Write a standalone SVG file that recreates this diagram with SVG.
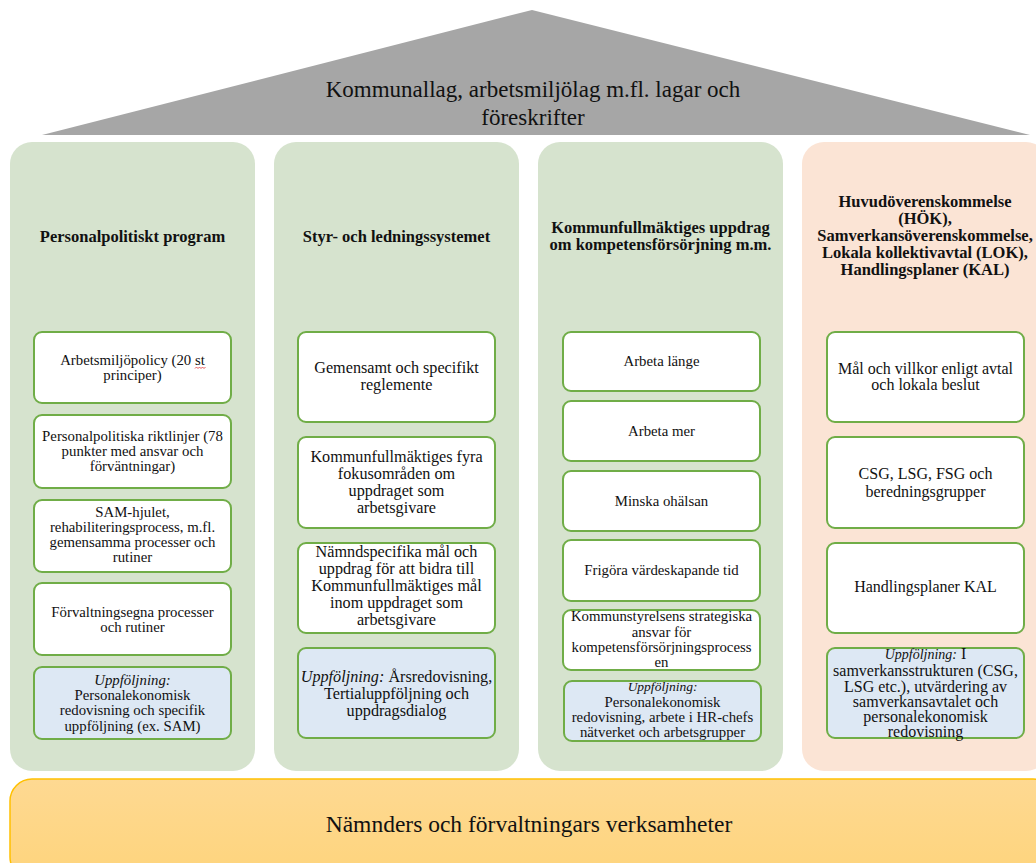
<svg xmlns="http://www.w3.org/2000/svg" width="1036" height="863" viewBox="0 0 1036 863">
<defs>
<linearGradient id="gBar" x1="0" y1="0" x2="0" y2="1">
<stop offset="0" stop-color="#fed992"/>
<stop offset="1" stop-color="#fed47c"/>
</linearGradient>
</defs>
<style>
text{font-family:"Liberation Serif","Times New Roman",serif;fill:#111;text-anchor:middle}
.col-g{fill:#d6e3ce}
.col-p{fill:#fbe4d5}
.box{fill:#fff;stroke:#70ad47;stroke-width:2}
.fu{fill:#dde8f4;stroke:#70ad47;stroke-width:2}
.hd{font-weight:bold;font-size:16.5px}
.t1{font-size:14.8px}
.t2{font-size:16.2px}
.t3{font-size:14.8px}
.t4{font-size:16px}
.it{font-style:italic}
</style>
<rect width="1036" height="863" fill="#fff"/>
<g id="roof">
<polygon points="42,135 532,10 1030,135" fill="#a6a6a6"/>
<text x="533" y="97" font-size="23">Kommunallag, arbetsmiljölag m.fl. lagar och</text>
<text x="533" y="125" font-size="23">föreskrifter</text>
</g>
<g id="col1">
<rect class="col-g" x="10" y="142" width="245" height="629" rx="22"/>
<text class="hd" x="132.5" y="242">Personalpolitiskt program</text>
</g>
<g id="col2">
<rect class="col-g" x="274" y="142" width="245" height="629" rx="22"/>
<text class="hd" x="396.5" y="242">Styr- och ledningssystemet</text>
</g>
<g id="col3">
<rect class="col-g" x="538" y="142" width="245" height="629" rx="22"/>
<text class="hd" x="660.5" y="233">Kommunfullmäktiges uppdrag</text>
<text class="hd" x="660.5" y="250">om kompetensförsörjning m.m.</text>
</g>
<g id="col4">
<rect class="col-p" x="802" y="142" width="246" height="629" rx="22"/>
<text class="hd" x="925" y="207">Huvudöverenskommelse</text>
<text class="hd" x="925" y="224">(HÖK),</text>
<text class="hd" x="925" y="241">Samverkansöverenskommelse,</text>
<text class="hd" x="925" y="258">Lokala kollektivavtal (LOK),</text>
<text class="hd" x="925" y="275">Handlingsplaner (KAL)</text>
</g>
<g id="c1b1">
<rect class="box" x="34" y="332" width="197" height="71" rx="8"/>
<text class="t1" x="132.5" y="365">Arbetsmiljöpolicy (20 st</text>
<text class="t1" x="132.5" y="380">principer)</text>
<path d="M195,368.5 l1.5,-1.5 l1.5,1.5 l1.5,-1.5 l1.5,1.5 l1.5,-1.5 l1.5,1.5 l1.5,-1.5" fill="none" stroke="#e03030" stroke-width="0.8"/>
</g>
<g id="c1b2">
<rect class="box" x="34" y="415" width="197" height="73" rx="8"/>
<text class="t1" x="132.5" y="441">Personalpolitiska riktlinjer (78</text>
<text class="t1" x="132.5" y="456">punkter med ansvar och</text>
<text class="t1" x="132.5" y="471">förväntningar)</text>
</g>
<g id="c1b3">
<rect class="box" x="34" y="500" width="197" height="72" rx="8"/>
<text class="t1" x="132.5" y="517">SAM-hjulet,</text>
<text class="t1" x="132.5" y="532">rehabiliteringsprocess, m.fl.</text>
<text class="t1" x="132.5" y="547">gemensamma processer och</text>
<text class="t1" x="132.5" y="562">rutiner</text>
</g>
<g id="c1b4">
<rect class="box" x="34" y="583" width="197" height="72" rx="8"/>
<text class="t1" x="132.5" y="617">Förvaltningsegna processer</text>
<text class="t1" x="132.5" y="632">och rutiner</text>
</g>
<g id="c1b5">
<rect class="fu" x="34" y="667" width="197" height="72" rx="8"/>
<text class="t1 it" x="132.5" y="685">Uppföljning:</text>
<text class="t1" x="132.5" y="700">Personalekonomisk</text>
<text class="t1" x="132.5" y="715">redovisning och specifik</text>
<text class="t1" x="132.5" y="731">uppföljning (ex. SAM)</text>
</g>
<g id="c2b1">
<rect class="box" x="298" y="332" width="197" height="90" rx="8"/>
<text class="t2" x="396.5" y="373">Gemensamt och specifikt</text>
<text class="t2" x="396.5" y="390">reglemente</text>
</g>
<g id="c2b2">
<rect class="box" x="298" y="437" width="197" height="91" rx="8"/>
<text class="t2" x="396.5" y="462">Kommunfullmäktiges fyra</text>
<text class="t2" x="396.5" y="479">fokusområden om</text>
<text class="t2" x="396.5" y="496">uppdraget som</text>
<text class="t2" x="396.5" y="513">arbetsgivare</text>
</g>
<g id="c2b3">
<rect class="box" x="298" y="543" width="197" height="90" rx="8"/>
<text class="t2" x="396.5" y="557">Nämndspecifika mål och</text>
<text class="t2" x="396.5" y="574">uppdrag för att bidra till</text>
<text class="t2" x="396.5" y="591">Kommunfullmäktiges mål</text>
<text class="t2" x="396.5" y="608">inom uppdraget som</text>
<text class="t2" x="396.5" y="625">arbetsgivare</text>
</g>
<g id="c2b4">
<rect class="fu" x="298" y="648" width="197" height="90" rx="8"/>
<text class="t2" x="396.5" y="682"><tspan class="it">Uppföljning:</tspan> Årsredovisning,</text>
<text class="t2" x="396.5" y="699">Tertialuppföljning och</text>
<text class="t2" x="396.5" y="716">uppdragsdialog</text>
</g>
<g id="c3b1">
<rect class="box" x="563" y="332" width="197" height="59" rx="8"/>
<text class="t3" x="661.5" y="366">Arbeta länge</text>
</g>
<g id="c3b2">
<rect class="box" x="563" y="401" width="197" height="60" rx="8"/>
<text class="t3" x="661.5" y="436">Arbeta mer</text>
</g>
<g id="c3b3">
<rect class="box" x="563" y="471" width="197" height="60" rx="8"/>
<text class="t3" x="661.5" y="506">Minska ohälsan</text>
</g>
<g id="c3b4">
<rect class="box" x="563" y="540" width="197" height="61" rx="8"/>
<text class="t3" x="661.5" y="575">Frigöra värdeskapande tid</text>
</g>
<g id="c3b5">
<rect class="box" x="563" y="610" width="197" height="60" rx="8"/>
<text class="t3" x="661.5" y="621">Kommunstyrelsens strategiska</text>
<text class="t3" x="661.5" y="637">ansvar för</text>
<text class="t3" x="661.5" y="652">kompetensförsörjningsprocess</text>
<text class="t3" x="661.5" y="667">en</text>
</g>
<g id="c3b6">
<rect class="fu" x="564" y="681" width="197" height="60" rx="8"/>
<text class="it" x="662.5" y="691" font-size="13.5">Uppföljning:</text>
<text class="t3" x="662.5" y="707">Personalekonomisk</text>
<text class="t3" x="662.5" y="722">redovisning, arbete i HR-chefs</text>
<text class="t3" x="662.5" y="737">nätverket och arbetsgrupper</text>
</g>
<g id="c4b1">
<rect class="box" x="827" y="332" width="197" height="90" rx="8"/>
<text class="t4" x="925.5" y="374">Mål och villkor enligt avtal</text>
<text class="t4" x="925.5" y="390">och lokala beslut</text>
</g>
<g id="c4b2">
<rect class="box" x="827" y="437" width="197" height="91" rx="8"/>
<text class="t4" x="925.5" y="479">CSG, LSG, FSG och</text>
<text class="t4" x="925.5" y="497">beredningsgrupper</text>
</g>
<g id="c4b3">
<rect class="box" x="827" y="543" width="197" height="90" rx="8"/>
<text class="t4" x="925.5" y="592">Handlingsplaner KAL</text>
</g>
<g id="c4b4">
<rect class="fu" x="827" y="648" width="197" height="90" rx="8"/>
<text class="t4" x="925.5" y="659"><tspan class="it" font-size="14">Uppföljning:</tspan> I</text>
<text class="t4" x="925.5" y="676">samverkansstrukturen (CSG,</text>
<text class="t4" x="925.5" y="692">LSG etc.), utvärdering av</text>
<text class="t4" x="925.5" y="707">samverkansavtalet och</text>
<text class="t4" x="925.5" y="722">personalekonomisk</text>
<text class="t4" x="925.5" y="737">redovisning</text>
</g>
<g id="base">
<rect x="10" y="779" width="1045" height="100" rx="22" fill="url(#gBar)" stroke="#ffc000" stroke-width="1.5"/>
<text x="529" y="832" font-size="23.5">Nämnders och förvaltningars verksamheter</text>
</g>
<g id="connectors"></g>
</svg>
